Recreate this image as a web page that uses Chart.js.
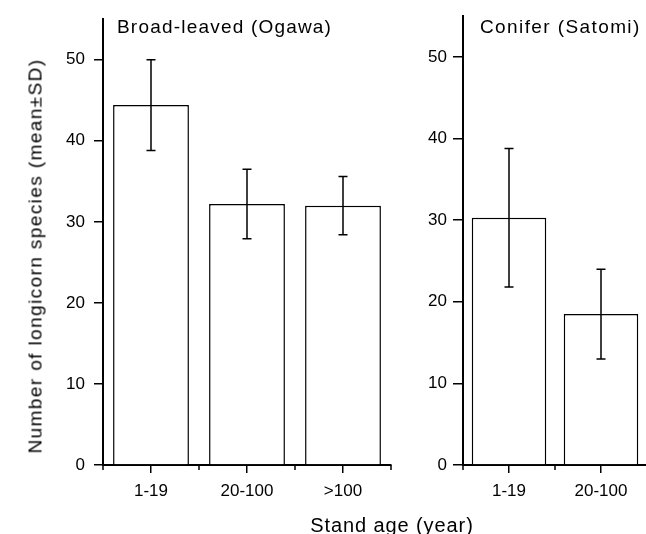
<!DOCTYPE html>
<html>
<head>
<meta charset="utf-8">
<script src="https://cdn.jsdelivr.net/npm/chart.js@4.4.1/dist/chart.umd.min.js"></script>
<style>
  html, body { margin: 0; padding: 0; background: #fff; }
  body { width: 646px; height: 534px; position: relative; overflow: hidden;
         font-family: "Liberation Sans", Arial, sans-serif; color: #000; }
  canvas { position: absolute; top: 0; }
  .lbl { position: absolute; white-space: nowrap; }
</style>
</head>
<body>
<canvas id="broad" width="400" height="534" style="left:0"></canvas>
<canvas id="conifer" width="260" height="534" style="left:400px"></canvas>

<div class="lbl" style="left:117px;top:17px;font-size:19px;line-height:19px;letter-spacing:1.2px">Broad-leaved (Ogawa)</div>
<div class="lbl" style="left:480px;top:17px;font-size:19px;line-height:19px;letter-spacing:1.4px">Conifer (Satomi)</div>
<div class="lbl" style="left:35px;top:256px;font-size:19px;line-height:19px;letter-spacing:1.4px;transform:translate(-50%,-50%) rotate(-90deg)">Number of longicorn species (mean±SD)</div>
<div class="lbl" style="left:392px;top:515px;font-size:20px;line-height:20px;letter-spacing:0.9px;transform:translateX(-50%)">Stand age (year)</div>

<script>
// Broad-leaved forest (Ogawa)
const broadAges = ['1-19', '20-100', '>100'];
const broadMean = [44.4, 32.2, 32.0];
const broadSD = [5.6, 4.3, 3.6];

// Conifer plantation (Satomi)
const coniferAges = ['1-19', '20-100'];
const coniferMean = [30.3, 18.5];
const coniferSD = [8.5, 5.5];

const yMax = 55;
const yStep = 10;

Chart.defaults.color = '#000';
Chart.defaults.font.family = '"Liberation Sans", Arial, sans-serif';
Chart.defaults.font.size = 17;

const tickFont = { family: '"Liberation Sans", Arial, sans-serif', size: 17 };

// error bars (mean ± SD) plus the short ticks between categories
const errorBars = {
  id: 'errorBars',
  afterDatasetsDraw(chart) {
    const ctx = chart.ctx;
    const y = chart.scales.y;
    const ds = chart.data.datasets[0];
    const meta = chart.getDatasetMeta(0);
    ctx.save();
    ctx.strokeStyle = '#000';
    ctx.lineWidth = 1.5;
    meta.data.forEach((bar, i) => {
      const top = y.getPixelForValue(ds.data[i] + ds.sd[i]);
      const bot = y.getPixelForValue(ds.data[i] - ds.sd[i]);
      ctx.beginPath();
      ctx.moveTo(bar.x, top); ctx.lineTo(bar.x, bot);
      ctx.moveTo(bar.x - 4.5, top); ctx.lineTo(bar.x + 4.5, top);
      ctx.moveTo(bar.x - 4.5, bot); ctx.lineTo(bar.x + 4.5, bot);
      ctx.stroke();
    });
    ctx.restore();
  },
  afterDraw(chart) {
    const ctx = chart.ctx;
    const x = chart.scales.x;
    const n = chart.data.labels.length;
    ctx.save();
    ctx.strokeStyle = '#000';
    ctx.lineWidth = 1.5;
    ctx.beginPath();
    for (let i = 0; i <= n; i++) {
      const px = x.getPixelForValue(i - 0.5);
      ctx.moveTo(px, x.top);
      ctx.lineTo(px, x.top + 5);
    }
    ctx.stroke();
    ctx.restore();
  }
};

function makePanel(id, labels, means, sds, axisWidth, padRight, barPct, yTickLen, yPad) {
  return new Chart(document.getElementById(id), {
    type: 'bar',
    data: {
      labels: labels,
      datasets: [{
        data: means,
        sd: sds,
        backgroundColor: '#fff',
        borderColor: '#000',
        borderWidth: 1.5,
        categoryPercentage: 1,
        barPercentage: barPct
      }]
    },
    plugins: [errorBars],
    options: {
      responsive: false,
      animation: false,
      layout: { padding: { top: 14, right: padRight, bottom: 0, left: 0 } },
      plugins: { legend: { display: false }, tooltip: { enabled: false } },
      scales: {
        x: {
          afterFit: (s) => { s.height = 69; },
          border: { display: true, color: '#000', width: 2 },
          grid: { display: true, offset: false, drawOnChartArea: false, tickLength: 8, color: '#000', lineWidth: 1.5 },
          ticks: { padding: 8, maxRotation: 0, font: tickFont }
        },
        y: {
          min: 0,
          max: yMax,
          afterFit: (s) => { s.width = axisWidth; },
          border: { display: true, color: '#000', width: 2 },
          grid: { display: true, drawOnChartArea: false, tickLength: yTickLen, color: '#000', lineWidth: 1.5 },
          ticks: { stepSize: yStep, includeBounds: false, padding: yPad, font: tickFont }
        }
      }
    }
  });
}

makePanel('broad', broadAges, broadMean, broadSD, 103, 9, 0.79, 9, 9);
makePanel('conifer', coniferAges, coniferMean, coniferSD, 63, 13, 0.81, 10, 6);
</script>
</body>
</html>
